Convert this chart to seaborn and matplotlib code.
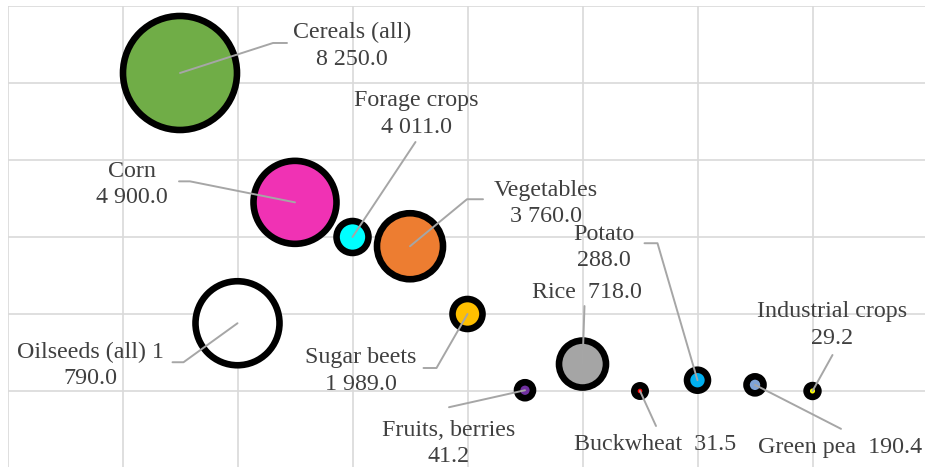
import matplotlib
matplotlib.use("Agg")
import matplotlib.pyplot as plt
import seaborn as sns
import pandas as pd
from matplotlib.lines import Line2D

# ---------------- data ----------------
crops = ["Cereals (all)", "Oilseeds (all)", "Corn", "Forage crops", "Vegetables",
         "Sugar beets", "Fruits, berries", "Rice", "Buckwheat", "Potato",
         "Green pea", "Industrial crops"]
x_pos = [1, 2, 3, 4, 5, 6, 7, 8, 9, 10, 11, 12]
y_val = [5.13, 1.88, 3.45, 3.0, 2.88, 2.0, 1.01, 1.35, 1.0, 1.14, 1.08, 1.0]
bubble = [130.0, 70.6, 68.9, 10.2, 43.6, 9.0, 2.56, 22.1, 1.3, 4.4, 2.9, 1.4]
values = [8250.0, 1790.0, 4900.0, 4011.0, 3760.0, 1989.0, 41.2, 718.0, 31.5, 288.0, 190.4, 29.2]
label_text = ["Cereals (all)\n8 250.0", "Oilseeds (all) 1\n790.0", "Corn\n4 900.0",
              "Forage crops\n4 011.0", "Vegetables\n3 760.0", "Sugar beets\n1 989.0",
              "Fruits, berries\n41.2", "Rice  718.0", "Buckwheat  31.5", "Potato\n288.0",
              "Green pea  190.4", "Industrial crops\n29.2"]
colors = ["#70ad47", "#ffffff", "#f032b4", "#00ffff", "#ed7d31", "#ffc000",
          "#7030a0", "#a5a5a5", "#ff0000", "#00b0f0", "#7fa3d6", "#ffff00"]

df = pd.DataFrame({"crop": crops, "x": x_pos, "y": y_val, "bubble": bubble})

# label placement: (text centre offset, leader points) in image pixels (down = +)
label_layout = {
    "Cereals (all)": ((172, -27), [(93, -30), (107, -30)]),
    "Oilseeds (all)": ((-147, 42), [(-54, 39), (-65, 39)]),
    "Corn": ((-163, -18), [(-105, -21), (-116, -21)]),
    "Forage crops": ((64, -123), [(63, -95)]),
    "Vegetables": ((136, -43), [(57, -47), (73, -47)]),
    "Sugar beets": ((-107, 57), [(-31, 54), (-44, 54)]),
    "Fruits, berries": ((-76, 53), [(-76, 17)]),
    "Rice": ((4, -72), [(2, -58)]),
    "Buckwheat": ((15, 53), [(16, 35)]),
    "Potato": ((-94, -133), [(-40, -137), (-53, -137)]),
    "Green pea": ((85, 63), [(86, 44)]),
    "Industrial crops": ((20, -66), [(20, -36)]),
}

# ---------------- figure ----------------
W, H, DPI = 925, 467, 100
sns.set_theme(style="white")
plt.rcParams["font.family"] = ["Liberation Serif", "DejaVu Serif"]

fig = plt.figure(figsize=(W / DPI, H / DPI), dpi=DPI)
ax = fig.add_axes([7.5 / W, -1 / H, 920 / W, 462 / H])
ax.set_xlim(-2, 14)
ax.set_ylim(0, 6)
ax.set_xticks(range(-2, 15, 2))
ax.set_yticks(range(0, 7))
ax.grid(True, color="#d9d9d9", linewidth=1.2)
ax.tick_params(length=0, labelbottom=False, labelleft=False)
for sp in ax.spines.values():
    sp.set_visible(False)

px_per_pt = DPI / 72.0
lw_px = 6.6
max_d_px = 114.0
smax = (max_d_px / px_per_pt) ** 2

sns.scatterplot(data=df, x="x", y="y", hue="crop", palette=dict(zip(crops, colors)),
                size="bubble", sizes=(0, smax), size_norm=(0, max(bubble)),
                edgecolor="black", linewidth=lw_px / px_per_pt, legend=False,
                ax=ax, zorder=3, alpha=1)
ax.set_xlabel("")
ax.set_ylabel("")

txt_color = "#404040"
lead_color = "#a6a6a6"
for crop, xv, yv, txt in zip(crops, x_pos, y_val, label_text):
    (tdx, tdy), pts = label_layout[crop]
    cx, cy = ax.transData.transform((xv, yv))
    xs = [cx] + [cx + dx for dx, dy in pts]
    ys = [cy] + [cy - dy for dx, dy in pts]
    fig.add_artist(Line2D(xs, ys, transform=None, color=lead_color,
                          linewidth=1.4, zorder=4))
    fig.text((cx + tdx) / W, (cy - tdy) / H, txt, ha="center", va="center",
             fontsize=17.3, color=txt_color, linespacing=1.32, zorder=5)

fig.savefig("out.png", dpi=DPI, facecolor="white")
